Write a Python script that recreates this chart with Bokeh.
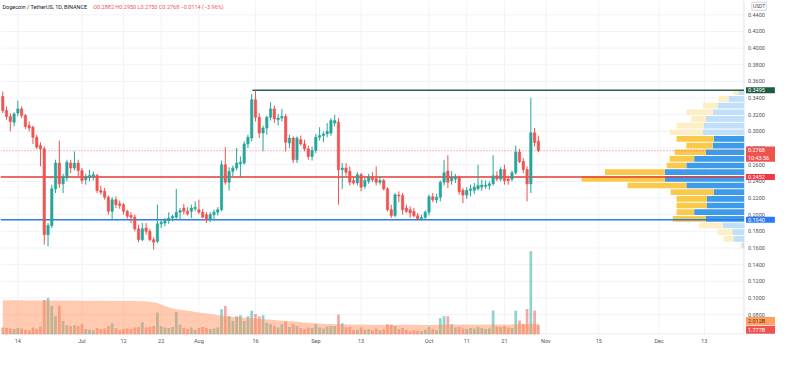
from bokeh.plotting import figure
from bokeh.models import Range1d, FixedTicker, Label, ColumnDataSource
from bokeh.embed import file_html
from bokeh.resources import INLINE
from bokeh.core.properties import value

# ---------------- data (daily candles from 2021-06-10 to 2021-10-30) ----------------
opens = [0.342, 0.325, 0.318, 0.311, 0.322, 0.327, 0.319, 0.307, 0.305, 0.293,
         0.283, 0.279, 0.176, 0.187, 0.231, 0.262, 0.237, 0.244, 0.262, 0.256,
         0.262, 0.253, 0.242, 0.245, 0.246, 0.247, 0.229, 0.228, 0.221, 0.204,
         0.218, 0.213, 0.212, 0.204, 0.199, 0.197, 0.183, 0.170, 0.184, 0.180,
         0.170, 0.168, 0.189, 0.190, 0.193, 0.196, 0.197, 0.203, 0.208, 0.204,
         0.204, 0.207, 0.206, 0.203, 0.200, 0.194, 0.200, 0.203, 0.206, 0.260,
         0.239, 0.252, 0.256, 0.261, 0.262, 0.285, 0.292, 0.338, 0.317, 0.298,
         0.304, 0.317, 0.327, 0.314, 0.316, 0.318, 0.286, 0.292, 0.266, 0.290,
         0.285, 0.279, 0.270, 0.277, 0.293, 0.295, 0.297, 0.298, 0.310, 0.311,
         0.254, 0.256, 0.252, 0.241, 0.238, 0.248, 0.234, 0.240, 0.245, 0.243,
         0.239, 0.241, 0.231, 0.206, 0.199, 0.2235, 0.223, 0.208, 0.206, 0.204,
         0.1986, 0.1952, 0.1967, 0.2029, 0.2216, 0.2178, 0.221, 0.2389, 0.2523, 0.2408,
         0.2427, 0.2446, 0.2292, 0.2235, 0.2292, 0.2293, 0.2312, 0.2331, 0.234, 0.2347,
         0.237, 0.2466, 0.2427, 0.2542, 0.2427, 0.2427, 0.2503, 0.2753, 0.2638, 0.2542,
         0.2369, 0.2983, 0.2882]
highs = [0.348, 0.330, 0.322, 0.323, 0.337, 0.330, 0.321, 0.312, 0.307, 0.296,
         0.287, 0.282, 0.190, 0.236, 0.266, 0.289, 0.249, 0.266, 0.266, 0.276,
         0.266, 0.256, 0.249, 0.254, 0.252, 0.249, 0.235, 0.232, 0.223, 0.221,
         0.222, 0.217, 0.214, 0.206, 0.203, 0.200, 0.188, 0.190, 0.190, 0.183,
         0.173, 0.212, 0.194, 0.196, 0.203, 0.200, 0.231, 0.208, 0.213, 0.209,
         0.212, 0.216, 0.218, 0.207, 0.203, 0.203, 0.206, 0.209, 0.265, 0.281,
         0.257, 0.259, 0.280, 0.270, 0.288, 0.296, 0.345, 0.3495, 0.322, 0.307,
         0.319, 0.335, 0.331, 0.321, 0.327, 0.321, 0.296, 0.294, 0.294, 0.295,
         0.290, 0.283, 0.282, 0.297, 0.305, 0.300, 0.310, 0.316, 0.320, 0.316,
         0.262, 0.262, 0.258, 0.246, 0.251, 0.250, 0.244, 0.249, 0.251, 0.258,
         0.246, 0.243, 0.233, 0.212, 0.226, 0.228, 0.226, 0.212, 0.210, 0.208,
         0.202, 0.200, 0.205, 0.224, 0.226, 0.225, 0.241, 0.2656, 0.2714, 0.2523,
         0.249, 0.247, 0.232, 0.233, 0.236, 0.238, 0.260, 0.242, 0.241, 0.240,
         0.2714, 0.252, 0.257, 0.260, 0.247, 0.253, 0.2829, 0.279, 0.268, 0.258,
         0.3403, 0.304, 0.2950]
lows = [0.322, 0.314, 0.300, 0.306, 0.318, 0.316, 0.303, 0.300, 0.285, 0.279,
        0.258, 0.164, 0.162, 0.184, 0.226, 0.232, 0.226, 0.240, 0.250, 0.253,
        0.245, 0.237, 0.236, 0.240, 0.241, 0.226, 0.224, 0.218, 0.200, 0.193,
        0.208, 0.207, 0.200, 0.195, 0.190, 0.180, 0.167, 0.168, 0.176, 0.168,
        0.158, 0.166, 0.184, 0.186, 0.189, 0.192, 0.195, 0.194, 0.200, 0.199,
        0.196, 0.204, 0.201, 0.196, 0.190, 0.191, 0.193, 0.199, 0.204, 0.236,
        0.229, 0.246, 0.253, 0.245, 0.260, 0.280, 0.288, 0.312, 0.292, 0.276,
        0.296, 0.313, 0.310, 0.307, 0.312, 0.276, 0.280, 0.262, 0.262, 0.283,
        0.276, 0.266, 0.265, 0.274, 0.289, 0.287, 0.293, 0.295, 0.306, 0.212,
        0.231, 0.247, 0.235, 0.236, 0.235, 0.228, 0.231, 0.237, 0.239, 0.235,
        0.236, 0.229, 0.204, 0.196, 0.197, 0.215, 0.200, 0.202, 0.196, 0.197,
        0.193, 0.193, 0.195, 0.199, 0.215, 0.214, 0.216, 0.235, 0.232, 0.236,
        0.238, 0.224, 0.2139, 0.219, 0.222, 0.225, 0.229, 0.229, 0.231, 0.230,
        0.235, 0.240, 0.240, 0.236, 0.236, 0.240, 0.248, 0.262, 0.250, 0.2159,
        0.226, 0.282, 0.2750]
closes = [0.325, 0.318, 0.312, 0.321, 0.327, 0.319, 0.306, 0.304, 0.293, 0.281,
          0.279, 0.176, 0.187, 0.231, 0.262, 0.237, 0.245, 0.263, 0.256, 0.262,
          0.253, 0.241, 0.245, 0.247, 0.248, 0.229, 0.227, 0.221, 0.204, 0.218,
          0.212, 0.211, 0.204, 0.198, 0.197, 0.183, 0.170, 0.183, 0.180, 0.170,
          0.167, 0.189, 0.191, 0.193, 0.196, 0.198, 0.203, 0.205, 0.204, 0.201,
          0.208, 0.209, 0.203, 0.197, 0.194, 0.200, 0.203, 0.206, 0.260, 0.239,
          0.252, 0.256, 0.262, 0.263, 0.285, 0.293, 0.338, 0.317, 0.298, 0.304,
          0.317, 0.327, 0.315, 0.316, 0.318, 0.287, 0.292, 0.266, 0.292, 0.285,
          0.279, 0.270, 0.277, 0.293, 0.295, 0.297, 0.300, 0.313, 0.313, 0.254,
          0.256, 0.251, 0.239, 0.238, 0.248, 0.233, 0.241, 0.245, 0.242, 0.239,
          0.241, 0.231, 0.206, 0.199, 0.224, 0.2225, 0.206, 0.204, 0.202, 0.1986,
          0.195, 0.1967, 0.2029, 0.2216, 0.2178, 0.221, 0.2389, 0.2503, 0.2389, 0.2446,
          0.2446, 0.2274, 0.2235, 0.2292, 0.231, 0.2331, 0.235, 0.2355, 0.2355, 0.237,
          0.2466, 0.2427, 0.2542, 0.2408, 0.2408, 0.2503, 0.2753, 0.2638, 0.2542, 0.2369,
          0.2983, 0.2868, 0.2768]
volumes_b = [1.3, 1.2, 1.1, 1.0, 1.2, 1.1, 0.9, 0.8, 1.3, 1.0,
             1.5, 6.4, 6.8, 5.3, 3.4, 5.3, 2.5, 1.7, 1.6, 1.7,
             1.6, 1.9, 1.0, 0.9, 0.8, 1.2, 1.0, 1.1, 1.6, 2.1,
             1.2, 0.8, 1.0, 1.1, 1.0, 1.3, 1.4, 2.3, 1.3, 1.4,
             1.6, 4.1, 1.6, 1.3, 1.2, 1.4, 4.2, 1.8, 1.2, 1.0,
             1.3, 0.9, 1.2, 1.4, 1.2, 1.0, 1.1, 1.3, 4.7, 5.3,
             3.4, 2.5, 3.4, 3.6, 2.5, 3.4, 4.4, 3.8, 3.4, 3.6,
             2.2, 1.9, 1.6, 1.3, 1.9, 2.4, 1.4, 1.9, 1.6, 1.2,
             1.0, 1.3, 1.2, 1.9, 1.3, 1.1, 1.5, 1.6, 1.6, 3.7,
             2.1, 1.3, 1.4, 0.9, 0.9, 1.3, 0.9, 1.0, 0.8, 1.1,
             0.8, 1.0, 1.9, 1.8, 1.6, 1.0, 1.2, 0.9, 0.6, 0.8,
             0.7, 0.6, 0.9, 1.4, 1.0, 0.8, 3.0, 3.4, 3.4, 1.9,
             1.3, 1.4, 1.1, 1.0, 1.2, 1.1, 1.4, 1.2, 1.0, 1.1,
             4.45, 1.5, 1.4, 1.6, 1.3, 1.2, 4.4, 2.6, 2.0, 4.75,
             15.5, 4.45, 1.777]
vol_ma_b = [6.36, 6.36, 6.36, 6.35, 6.35, 6.35, 6.34, 6.34, 6.33, 6.33,
            6.33, 6.33, 6.33, 6.32, 6.32, 6.32, 6.31, 6.31, 6.30, 6.30,
            6.30, 6.29, 6.29, 6.28, 6.28, 6.27, 6.27, 6.26, 6.26, 6.25,
            6.25, 6.24, 6.24, 6.23, 6.22, 6.21, 6.20, 6.18, 6.15, 6.10,
            6.00, 5.85, 5.60, 5.30, 5.05, 4.85, 4.70, 4.60, 4.50, 4.40,
            4.30, 4.20, 4.10, 4.00, 3.90, 3.80, 3.70, 3.60, 3.50, 3.45,
            3.40, 3.30, 3.25, 3.20, 3.10, 3.05, 3.00, 2.95, 2.90, 2.85,
            2.80, 2.75, 2.70, 2.60, 2.55, 2.50, 2.45, 2.40, 2.35, 2.30,
            2.25, 2.20, 2.15, 2.10, 2.05, 2.00, 1.96, 1.94, 1.92, 1.92,
            1.90, 1.90, 1.88, 1.87, 1.86, 1.85, 1.84, 1.83, 1.82, 1.82,
            1.81, 1.80, 1.80, 1.80, 1.80, 1.80, 1.80, 1.80, 1.79, 1.79,
            1.79, 1.78, 1.78, 1.78, 1.78, 1.80, 1.82, 1.84, 1.86, 1.86,
            1.86, 1.86, 1.86, 1.85, 1.85, 1.85, 1.85, 1.85, 1.85, 1.85,
            1.88, 1.88, 1.88, 1.88, 1.88, 1.88, 1.90, 1.90, 1.92, 1.94,
            2.00, 2.01, 2.012]

# date axis (bar index -> label)
x_tick_pos = [4, 21, 32, 42, 52, 67, 83, 95, 113, 123, 133, 144, 158, 174, 186]
x_tick_labels = ["14", "Jul", "12", "22", "Aug", "16", "Sep", "13", "Oct", "11", "21", "Nov", "15", "Dec", "13"]
price_ticks = [0.08, 0.10, 0.12, 0.14, 0.16, 0.18, 0.20, 0.22, 0.24, 0.26, 0.28,
               0.30, 0.32, 0.34, 0.36, 0.38, 0.40, 0.42, 0.44]

# visible-range volume profile (24 rows, bottom to top), relative volume
vp_row_low = [0.159 + 0.008 * k for k in range(24)]
vp_up = [2, 11, 12, 22, 39, 51, 38, 38, 31, 59, 81, 81, 59, 51, 39, 32, 31, 42, 41, 39, 32, 27, 16, 6]
vp_down = [2, 10, 15, 24, 34, 18, 31, 31, 44, 60, 85, 61, 20, 25, 32, 27, 38, 34, 28, 15, 27, 15, 10, 5]
vp_value_area = [False, False, False, False, True, True, True, True, True, True, True, True, True,
                 True, True, True, True, False, False, False, False, False, False, False]

level_high = 0.3495
level_mid = 0.2452
level_low = 0.1940
last_price = 0.2768

# ---------------- figure ----------------
UP = "#26a69a"
DOWN = "#ef5350"
FONT = "Roboto"
X0, XP, X1 = -0.6, 196.5, 204.86      # frame left, price-scale border, frame right (bar units)
Y0, Y1 = 0.0561, 0.4572

p = figure(width=775, height=349, x_range=Range1d(X0, X1), y_range=Range1d(Y0, Y1),
           output_backend="svg", toolbar_location=None,
           min_border_left=0, min_border_top=0, min_border_right=0, min_border_bottom=15)
p.outline_line_color = None
p.background_fill_color = "white"
p.border_fill_color = "white"
p.grid.visible = False
p.yaxis.visible = False
p.extra_y_ranges = {"vol": Range1d(0, 62.1)}
p.extra_x_ranges = {"vp": Range1d(759.0, -32.0)}

# time axis
p.xaxis.ticker = FixedTicker(ticks=x_tick_pos)
p.xaxis.major_label_overrides = {t: l for t, l in zip(x_tick_pos, x_tick_labels)}
p.xaxis.axis_line_color = None
p.xaxis.major_tick_line_color = None
p.xaxis.minor_tick_line_color = None
p.xaxis.major_tick_out = 0
p.xaxis.major_tick_in = 0
p.xaxis.minor_tick_out = 0
p.xaxis.major_label_text_font = FONT
p.xaxis.major_label_text_font_size = "5.5px"
p.xaxis.major_label_text_color = "#50535e"
p.xaxis.major_label_standoff = 3

GRID = "#f0f3fa"
# grid (only inside the chart pane)
p.segment(x0=x_tick_pos, y0=[Y0] * len(x_tick_pos), x1=x_tick_pos, y1=[Y1] * len(x_tick_pos),
          line_color=GRID, line_width=1)
p.segment(x0=[X0] * len(price_ticks), y0=price_ticks, x1=[XP] * len(price_ticks), y1=price_ticks,
          line_color=GRID, line_width=1)
# pane borders
p.segment(x0=[XP, X0], y0=[Y0, Y0 + 0.0006], x1=[XP, XP], y1=[Y1, Y0 + 0.0006],
          line_color="#e0e3eb", line_width=1)

idx = list(range(len(opens)))
colors = [UP if c >= o else DOWN for o, c in zip(opens, closes)]
src = ColumnDataSource(dict(
    x=idx, o=opens, h=highs, l=lows, c=closes,
    top=[max(o, c) for o, c in zip(opens, closes)],
    bottom=[min(o, c) for o, c in zip(opens, closes)],
    color=colors, vol=volumes_b, ma=vol_ma_b))

# volume bars + volume MA area
p.vbar(x="x", width=0.72, top="vol", bottom=0, source=src, y_range_name="vol",
       fill_color="color", fill_alpha=0.5, line_color=None)
p.varea(x="x", y1=0, y2="ma", source=src, y_range_name="vol", fill_color="#ff8a50", fill_alpha=0.45)

# volume profile
vp_src = ColumnDataSource(dict(
    y=[r + 0.004 for r in vp_row_low],
    up=vp_up,
    tot=[u + d for u, d in zip(vp_up, vp_down)],
    cu=["#3d9be9" if va else "#bfdffb" for va in vp_value_area],
    cd=["#fbc94a" if va else "#feeec3" for va in vp_value_area]))
p.hbar(y="y", height=0.0068, left=0, right="up", source=vp_src, x_range_name="vp",
       fill_color="cu", line_color=None)
p.hbar(y="y", height=0.0068, left="up", right="tot", source=vp_src, x_range_name="vp",
       fill_color="cd", line_color=None)

# horizontal levels
p.segment(x0=[X0], y0=[level_low], x1=[XP], y1=[level_low], line_color="#2a7fe0", line_width=1.5)
p.segment(x0=[X0], y0=[level_mid], x1=[XP], y1=[level_mid], line_color="#e53935", line_width=2,
          line_alpha=0.75)
p.segment(x0=[X0], y0=[last_price], x1=[XP], y1=[last_price], line_color=DOWN, line_width=1,
          line_dash="1 2", line_alpha=0.8)
top_i = highs.index(max(highs))
p.segment(x0=[top_i - 0.8], y0=[level_high], x1=[XP], y1=[level_high],
          line_color="#2f5f4c", line_width=1.5)

# candles
p.segment(x0="x", y0="l", x1="x", y1="h", source=src, line_color="color", line_width=1)
p.vbar(x="x", width=0.62, top="top", bottom="bottom", source=src,
       fill_color="color", line_color="color", line_width=0.6)

# price scale labels
p.text(x=[XP + 1.05] * len(price_ticks), y=price_ticks, text=["%.4f" % v for v in price_ticks],
       text_font=value(FONT), text_font_size=value("5.5px"), text_color="#50535e",
       text_baseline="middle", text_align="left")

# ---------------- labels ----------------
p.add_layout(Label(x=-0.1, y=0.4492, text="Dogecoin / TetherUS, 1D, BINANCE", text_font=FONT,
                   text_font_size="5.5px", text_color="#131722", text_baseline="middle"))
p.add_layout(Label(x=24.0, y=0.4492, text="O0.2882  H0.2950  L0.2750  C0.2768  \u22120.0114 (\u22123.96%)",
                   text_font=FONT, text_font_size="5.5px", text_color=DOWN, text_baseline="middle"))
p.add_layout(Label(x=198.6, y=0.4503, text="USDT", text_font=FONT, text_font_size="5px",
                   text_color="#50535e", text_baseline="middle", border_line_color="#d1d4dc",
                   background_fill_color="white", padding=1))


def tag(yv, txt, bg, fg="white"):
    p.add_layout(Label(x=XP, y=yv, text=txt, x_offset=2, text_font=FONT, text_font_size="5.5px",
                       text_color=fg, text_baseline="middle", text_align="left",
                       background_fill_color=bg, padding=dict(left=2, right=10, top=1, bottom=1)))


tag(level_high, "0.3495", "#1e5b40")
tag(last_price - 0.004, "0.2768\n10:43:56", DOWN)
tag(level_mid, "0.2452", "#f23645")
tag(level_low, "0.1940", "#2979ff")
tag(0.0722, "2.012B", "#ffa060", "#5a2a00")
tag(0.0618, "1.777B", DOWN)

open("out.html", "w").write(file_html(p, INLINE))
